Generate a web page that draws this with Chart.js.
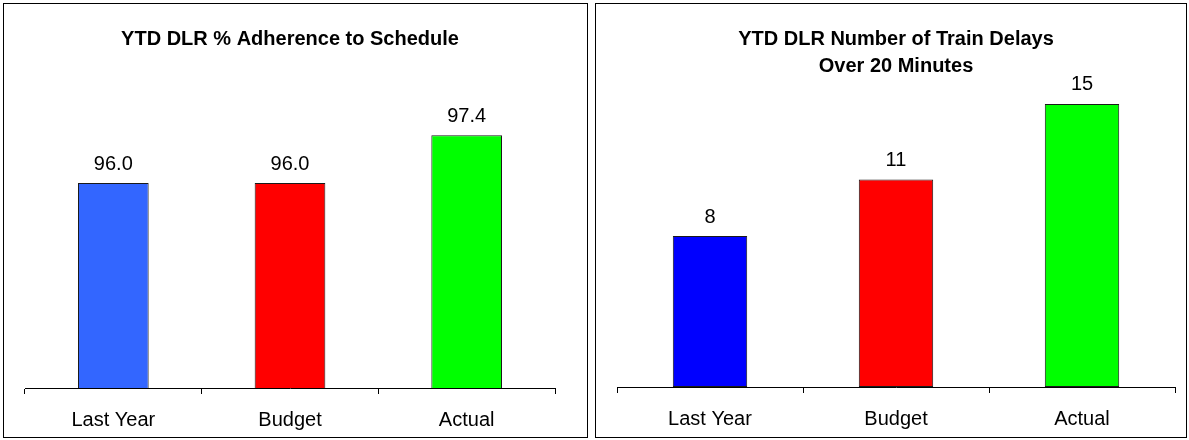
<!DOCTYPE html>
<html>
<head>
<meta charset="utf-8">
<script src="https://cdn.jsdelivr.net/npm/chart.js@4.4.0/dist/chart.umd.min.js"></script>
<style>
  html, body { margin: 0; padding: 0; background: #fff; width: 1189px; height: 440px; overflow: hidden; }
  .panel { position: absolute; box-sizing: border-box; border: 1px solid #000; background: #fff; }
  .panel canvas { position: absolute; left: 0; top: 0; }
</style>
</head>
<body>
<div class="panel" style="left:3px; top:3px; width:585px; height:435px;">
  <canvas id="c1" width="583" height="433"></canvas>
</div>
<div class="panel" style="left:595px; top:3px; width:592px; height:435px;">
  <canvas id="c2" width="590" height="433"></canvas>
</div>
<script>
// ---- data ----
const categories = ['Last Year', 'Budget', 'Actual'];
const adherenceTitle = 'YTD DLR % Adherence to Schedule';
const adherenceValues = [96.0, 96.0, 97.4];
const adherenceAxisMin = 90;
const adherenceAxisMax = 99;
const delaysTitle = ['YTD DLR Number of Train Delays', 'Over 20 Minutes'];
const delaysValues = [8, 11, 15];
const delaysAxisMin = 0;
const delaysAxisMax = 16;

// ---- styling ----
const FONT = "'Liberation Sans', Arial, sans-serif";
Chart.defaults.font.family = FONT;
Chart.defaults.color = '#000';
Chart.defaults.animation = false;

const valueLabels = {
  id: 'valueLabels',
  afterDatasetsDraw(chart, args, opts) {
    const ctx = chart.ctx;
    ctx.save();
    ctx.font = '20px ' + FONT;
    ctx.fillStyle = '#000';
    ctx.textAlign = 'center';
    ctx.textBaseline = 'middle';
    chart.data.datasets.forEach((ds, di) => {
      const meta = chart.getDatasetMeta(di);
      meta.data.forEach((bar, i) => {
        ctx.fillText(opts.format(ds.data[i]), bar.x, bar.y - opts.offset);
      });
    });
    ctx.restore();
  }
};

function makeChart(id, title, values, colors, yMin, yMax, pad, titleOpts, axisHeight, fmt) {
  return new Chart(document.getElementById(id), {
    type: 'bar',
    data: {
      labels: categories,
      datasets: [{
        data: values,
        backgroundColor: colors,
        borderColor: '#1a1a1a',
        borderWidth: 1,
        borderSkipped: false,
        barPercentage: 0.4,
        categoryPercentage: 1.0
      }]
    },
    options: {
      responsive: false,
      devicePixelRatio: 1,
      layout: { padding: pad },
      plugins: {
        legend: { display: false },
        tooltip: { enabled: false },
        title: {
          display: true,
          text: title,
          color: '#000',
          font: { size: 20, weight: 'bold', family: FONT, lineHeight: titleOpts.lh },
          padding: { top: titleOpts.top, bottom: titleOpts.bottom }
        },
        valueLabels: { format: fmt, offset: 19 }
      },
      scales: {
        x: {
          grid: { display: true, drawOnChartArea: false, drawTicks: true, tickLength: 6, offset: true, color: '#000', lineWidth: 1 },
          border: { display: true, color: '#000', width: 1 },
          ticks: { color: '#000', font: { size: 20, family: FONT }, padding: 14, maxRotation: 0 },
          afterFit: (scale) => { scale.height = axisHeight; }
        },
        y: {
          display: false,
          min: yMin,
          max: yMax
        }
      }
    },
    plugins: [valueLabels]
  });
}

makeChart('c1', adherenceTitle, adherenceValues, ['#3366FF', '#FF0000', '#00FF00'],
  adherenceAxisMin, adherenceAxisMax,
  { left: 21, right: 32, top: 0, bottom: 0 },
  { lh: 1.2, top: 23, bottom: 29.5 }, 49,
  v => v.toFixed(1));

makeChart('c2', delaysTitle, delaysValues, ['#0000FF', '#FF0000', '#00FF00'],
  delaysAxisMin, delaysAxisMax,
  { left: 21, right: 11, top: 0, bottom: 0 },
  { lh: 1.35, top: 21.5, bottom: 5.5 }, 50,
  v => String(v));
</script>
</body>
</html>
